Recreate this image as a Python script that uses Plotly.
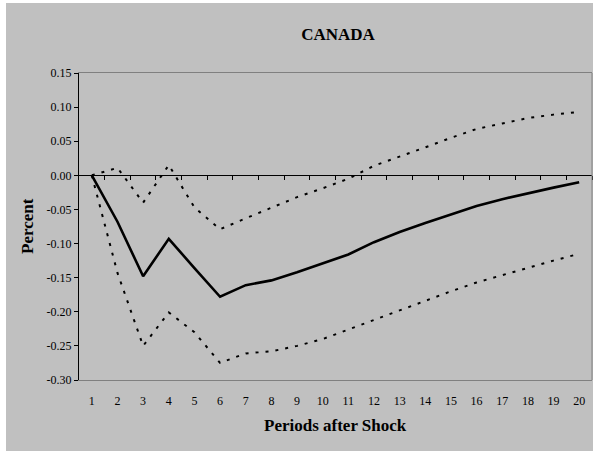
import plotly.graph_objects as go

# Impulse response of a shock, Canada: point estimate with confidence bands
periods = list(range(1, 21))
response = [0.000, -0.068, -0.148, -0.093, -0.136, -0.178, -0.161, -0.154, -0.142, -0.129,
            -0.116, -0.098, -0.083, -0.070, -0.057, -0.045, -0.035, -0.026, -0.018, -0.010]
upper_band = [0.000, 0.011, -0.040, 0.015, -0.047, -0.079, -0.063, -0.047, -0.032, -0.019,
              -0.005, 0.014, 0.027, 0.041, 0.055, 0.068, 0.076, 0.084, 0.089, 0.093]
lower_band = [0.000, -0.143, -0.250, -0.201, -0.230, -0.275, -0.261, -0.258, -0.250, -0.240,
              -0.226, -0.212, -0.197, -0.183, -0.170, -0.157, -0.146, -0.136, -0.125, -0.115]

y_ticks = [0.15, 0.10, 0.05, 0.00, -0.05, -0.10, -0.15, -0.20, -0.25, -0.30]
y_labels = [f"{v:.2f}" for v in y_ticks]
x_labels = [str(p) for p in periods]

W, H = 593, 451
L, R, T, B = 79, 1, 73, 71
plot_w = W - L - R
plot_h = H - T - B

FONT = "Liberation Serif, Times New Roman, serif"
GRAY_BG = "#C0C0C0"
BORDER = "#808080"

fig = go.Figure()

fig.add_trace(go.Scatter(x=periods, y=upper_band, mode="lines",
                         line=dict(color="black", width=2, dash="3px,7px"),
                         hoverinfo="skip", showlegend=False))
fig.add_trace(go.Scatter(x=periods, y=lower_band, mode="lines",
                         line=dict(color="black", width=2, dash="3px,7px"),
                         hoverinfo="skip", showlegend=False))
fig.add_trace(go.Scatter(x=periods, y=response, mode="lines",
                         line=dict(color="black", width=2.6),
                         hoverinfo="skip", showlegend=False))
# carrier trace so the zero-crossing category axis gets drawn
fig.add_trace(go.Scatter(x=[1], y=[0], xaxis="x2", mode="markers",
                         marker=dict(size=1, color="rgba(0,0,0,0)"),
                         hoverinfo="skip", showlegend=False))

y_zero_frac = (0 - (-0.30)) / 0.45


def px_x(px):
    return (px - L) / plot_w


def px_y(py):
    return (H - B - py) / plot_h


fig.update_layout(
    width=W, height=H,
    margin=dict(l=L, r=R, t=T, b=B, pad=0),
    paper_bgcolor="white",
    plot_bgcolor="white",
    font=dict(family=FONT, size=12, color="black"),
    title=dict(text="<b>CANADA</b>", x=0.505, xref="paper", xanchor="center",
               y=1 - 34 / H, yanchor="middle",
               font=dict(family=FONT, size=17, color="black")),
    xaxis=dict(range=[0.5, 20.5], tickvals=periods, ticktext=x_labels,
               ticks="outside", ticklen=10, tickcolor="rgba(0,0,0,0)",
               showline=True, linecolor=BORDER, linewidth=1, mirror=True,
               showgrid=False, zeroline=False,
               tickfont=dict(family=FONT, size=12, color="black")),
    xaxis2=dict(range=[0.5, 20.5], overlaying="x", anchor="free",
                position=y_zero_frac, side="bottom",
                tickvals=[p + 0.5 for p in periods], showticklabels=False,
                ticks="outside", ticklen=4, tickcolor="black", tickwidth=1,
                showline=True, linecolor="black", linewidth=1,
                showgrid=False, zeroline=False),
    yaxis=dict(range=[-0.30, 0.15], tickvals=y_ticks, ticktext=y_labels,
               ticks="outside", ticklen=4, tickcolor="black", tickwidth=1,
               showline=True, linecolor="black", linewidth=1,
               showgrid=False, zeroline=False,
               tickfont=dict(family=FONT, size=12, color="black")),
    shapes=[
        dict(type="rect", xref="paper", yref="paper",
             x0=px_x(6), x1=px_x(W + 20), y0=px_y(H + 20), y1=px_y(3),
             fillcolor=GRAY_BG, line=dict(width=0), layer="below"),
        dict(type="line", xref="paper", yref="paper",
             x0=1, x1=1, y0=0, y1=1,
             line=dict(color=BORDER, width=1), layer="above"),
    ],
    annotations=[
        dict(text="<b>Periods after Shock</b>", xref="paper", yref="paper",
             x=0.5, y=px_y(425), xanchor="center", yanchor="middle",
             showarrow=False, font=dict(family=FONT, size=17, color="black")),
        dict(text="<b>Percent</b>", xref="paper", yref="paper",
             x=px_x(27.5), y=0.5, xanchor="center", yanchor="middle",
             textangle=-90, showarrow=False,
             font=dict(family=FONT, size=17, color="black")),
    ],
)

fig.write_html("out.html")
